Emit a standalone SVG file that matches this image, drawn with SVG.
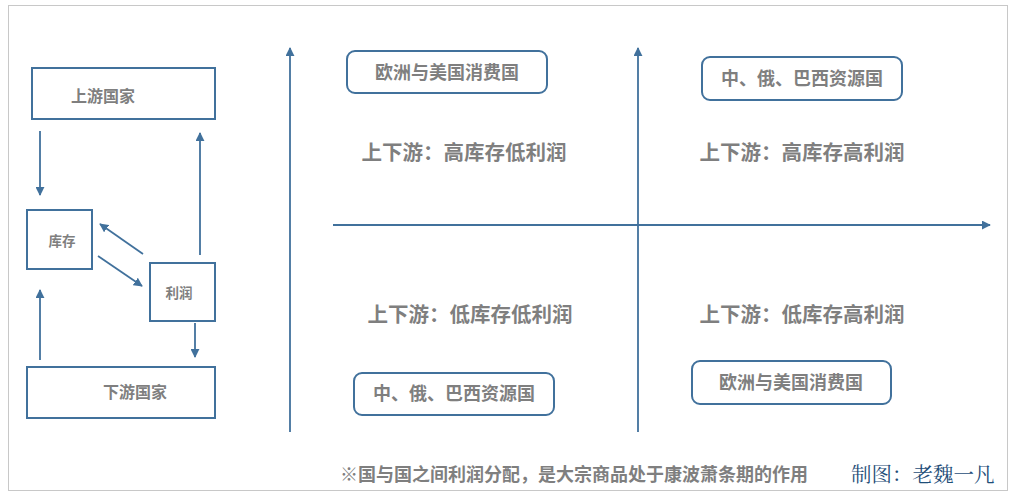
<svg xmlns="http://www.w3.org/2000/svg" width="1015" height="499" viewBox="0 0 1015 499">
<style>
.b{fill:#fff;stroke:#41719c;stroke-width:2}
.r{fill:#fff;stroke:#41719c;stroke-width:2}
.t{font-family:"Noto Sans CJK SC",sans-serif;font-weight:bold;fill:#7f7f7f}
.l{stroke:#41719c;stroke-width:1.8;fill:none;marker-end:url(#a)}
</style>
<defs><marker id="a" viewBox="0 0 10 10" refX="9" refY="5" markerWidth="5" markerHeight="5" orient="auto"><path d="M0,0L10,5L0,10z" fill="#41719c"/></marker></defs>
<rect width="1015" height="499" fill="#fff"/>
<rect x="8.5" y="5.5" width="999" height="485" fill="none" stroke="#c8c8c8"/>
<g id="connectors">
<line class="l" x1="40" y1="131" x2="40" y2="195"/>
<line class="l" x1="200" y1="255" x2="200" y2="133"/>
<line class="l" x1="143" y1="254" x2="100" y2="224"/>
<line class="l" x1="98" y1="256" x2="142" y2="286"/>
<line class="l" x1="195" y1="323" x2="195" y2="357"/>
<line class="l" x1="40" y1="360" x2="40" y2="290"/>
<line class="l" x1="290" y1="432" x2="290" y2="48"/>
<line class="l" x1="638" y1="432" x2="638" y2="48"/>
<line class="l" x1="333" y1="225" x2="990" y2="225"/>
</g>
<g id="upstream"><rect class="b" x="32" y="68" width="183" height="51"/><text class="t" x="103" y="102" font-size="16" text-anchor="middle">上游国家</text></g>
<g id="inventory"><rect class="b" x="27" y="210" width="65" height="59"/><text class="t" x="62" y="246" font-size="13.5" text-anchor="middle">库存</text></g>
<g id="profit"><rect class="b" x="150" y="263" width="65" height="58"/><text class="t" x="179" y="298" font-size="13.5" text-anchor="middle">利润</text></g>
<g id="downstream"><rect class="b" x="27" y="367" width="188" height="51"/><text class="t" x="135" y="398" font-size="16" text-anchor="middle">下游国家</text></g>
<g id="q1"><rect class="r" x="347" y="51" width="200" height="42" rx="8"/><text class="t" x="447" y="79" font-size="18" text-anchor="middle">欧洲与美国消费国</text></g>
<g id="q2"><rect class="r" x="702" y="57" width="200" height="43" rx="8"/><text class="t" x="802" y="85" font-size="18" text-anchor="middle">中、俄、巴西资源国</text></g>
<g id="q3"><rect class="r" x="354" y="373" width="200" height="42" rx="8"/><text class="t" x="454" y="400" font-size="18" text-anchor="middle">中、俄、巴西资源国</text></g>
<g id="q4"><rect class="r" x="692" y="361" width="199" height="43" rx="8"/><text class="t" x="791" y="389" font-size="18" text-anchor="middle">欧洲与美国消费国</text></g>
<text class="t" x="464" y="160" font-size="20.5" text-anchor="middle">上下游：高库存低利润</text>
<text class="t" x="802" y="160" font-size="20.5" text-anchor="middle">上下游：高库存高利润</text>
<text class="t" x="470" y="322" font-size="20.5" text-anchor="middle">上下游：低库存低利润</text>
<text class="t" x="802" y="322" font-size="20.5" text-anchor="middle">上下游：低库存高利润</text>
<text class="t" x="340" y="481" font-size="18">※国与国之间利润分配，是大宗商品处于康波萧条期的作用</text>
<text x="851" y="482" font-size="20.5" font-family="'Noto Serif CJK SC','Noto Sans CJK SC',serif" fill="#1f4e79">制图：老魏一凡</text>
</svg>
